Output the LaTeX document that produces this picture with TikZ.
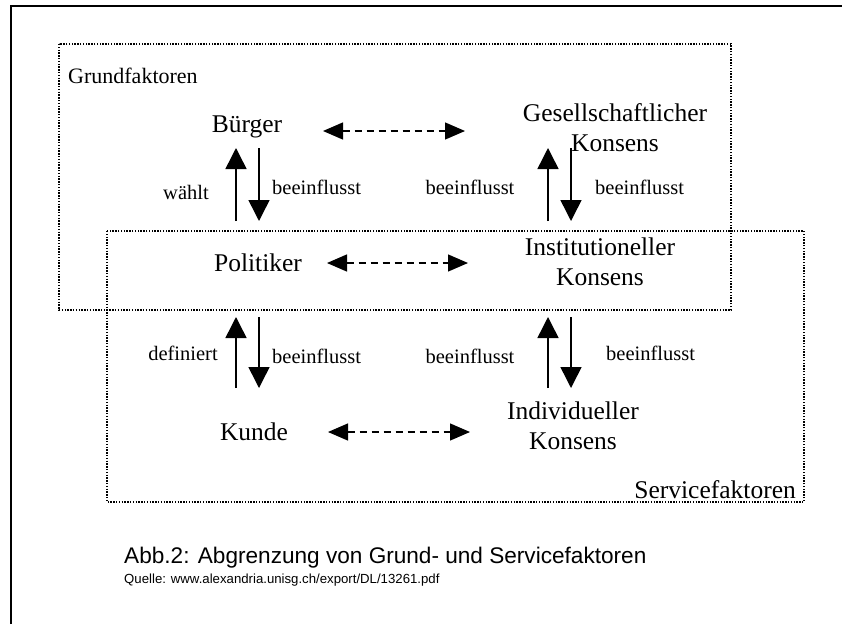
\documentclass[tikz,border=0pt]{standalone}
\usepackage{fontspec}
\setmainfont{Liberation Serif}
\newfontfamily\capfont{Liberation Sans}
\usetikzlibrary{arrows.meta}
\begin{document}
\begin{tikzpicture}[x=1pt,y=-1pt,
  lbl/.style={font=\fontsize{25.5}{30}\selectfont, inner sep=0pt, align=center},
  sml/.style={font=\fontsize{20.5}{24}\selectfont, inner sep=0pt},
  dotbox/.style={draw, line width=1.4pt, dash pattern=on 1.4pt off 1.4pt},
  varrow/.style={line width=1.5pt, -{Triangle[length=21pt,width=21pt]}},
  harrow/.style={line width=1.3pt, dash pattern=on 7pt off 5pt,
     {Triangle[length=20pt,width=17pt]}-{Triangle[length=20pt,width=17pt]}}]
\useasboundingbox (0,0) rectangle (842,624);
% outer frame
\draw[line width=2.2pt] (11,624) -- (11,6) -- (842,6);
% boxes
\draw[dotbox] (59,44) rectangle (731,310);
\draw[dotbox] (107,231) rectangle (804,502);
% titles
\node[font=\fontsize{22}{26}\selectfont, inner sep=0pt, anchor=west] (gf) at (68,76) {Grundfaktoren};
\node[lbl, anchor=east] (sf) at (796,490) {Servicefaktoren};
% main nodes
\node[lbl] (b) at (247,127) {Bürger};
\node[lbl] (gk) at (615,128) {Gesellschaftlicher\\Konsens};
\node[lbl] (p) at (258,263) {Politiker};
\node[lbl] (ik) at (600,262) {Institutioneller\\Konsens};
\node[lbl] (k) at (254,432) {Kunde};
\node[lbl] (ic) at (573,426) {Individueller\\Konsens};
% horizontal dashed arrows
\coordinate (h1a) at (323,131); \coordinate (h1b) at (465,131);
\coordinate (h2a) at (327,263); \coordinate (h2b) at (468,263);
\coordinate (h3a) at (328,432); \coordinate (h3b) at (470,432);
\draw[harrow] (h1a) -- (h1b);
\draw[harrow] (h2a) -- (h2b);
\draw[harrow] (h3a) -- (h3b);
% vertical arrows upper
\coordinate (u1b) at (236,221); \coordinate (u1t) at (236,148);
\coordinate (d1t) at (259,148); \coordinate (d1b) at (259,221);
\coordinate (u2b) at (548,221); \coordinate (u2t) at (548,148);
\coordinate (d2t) at (571,148); \coordinate (d2b) at (571,221);
\draw[varrow] (u1b) -- (u1t);
\draw[varrow] (d1t) -- (d1b);
\draw[varrow] (u2b) -- (u2t);
\draw[varrow] (d2t) -- (d2b);
% vertical arrows lower
\coordinate (u3b) at (236,388); \coordinate (u3t) at (236,317);
\coordinate (d3t) at (259,317); \coordinate (d3b) at (259,388);
\coordinate (u4b) at (548,388); \coordinate (u4t) at (548,317);
\coordinate (d4t) at (571,317); \coordinate (d4b) at (571,388);
\draw[varrow] (u3b) -- (u3t);
\draw[varrow] (d3t) -- (d3b);
\draw[varrow] (u4b) -- (u4t);
\draw[varrow] (d4t) -- (d4b);
% labels
\node[sml] (l1) at (186,192) {wählt};
\node[sml, anchor=west] (l2) at (272,187) {beeinflusst};
\node[sml] (l3) at (470,187) {beeinflusst};
\node[sml, anchor=west] (l4) at (595,187) {beeinflusst};
\node[sml] (l5) at (183,353) {definiert};
\node[sml, anchor=west] (l6) at (272,356) {beeinflusst};
\node[sml] (l7) at (470,356) {beeinflusst};
\node[sml, anchor=west] (l8) at (606,353) {beeinflusst};
% caption
\node[font=\capfont\fontsize{22.6}{26}\selectfont, anchor=base west, inner sep=0pt] (cap) at (124,563) {Abb.2: Abgrenzung von Grund- und Servicefaktoren};
\node[font=\capfont\fontsize{13.2}{16}\selectfont, anchor=base west, inner sep=0pt] (src) at (124,583) {Quelle: www.alexandria.unisg.ch/export/DL/13261.pdf};
\end{tikzpicture}
\end{document}
